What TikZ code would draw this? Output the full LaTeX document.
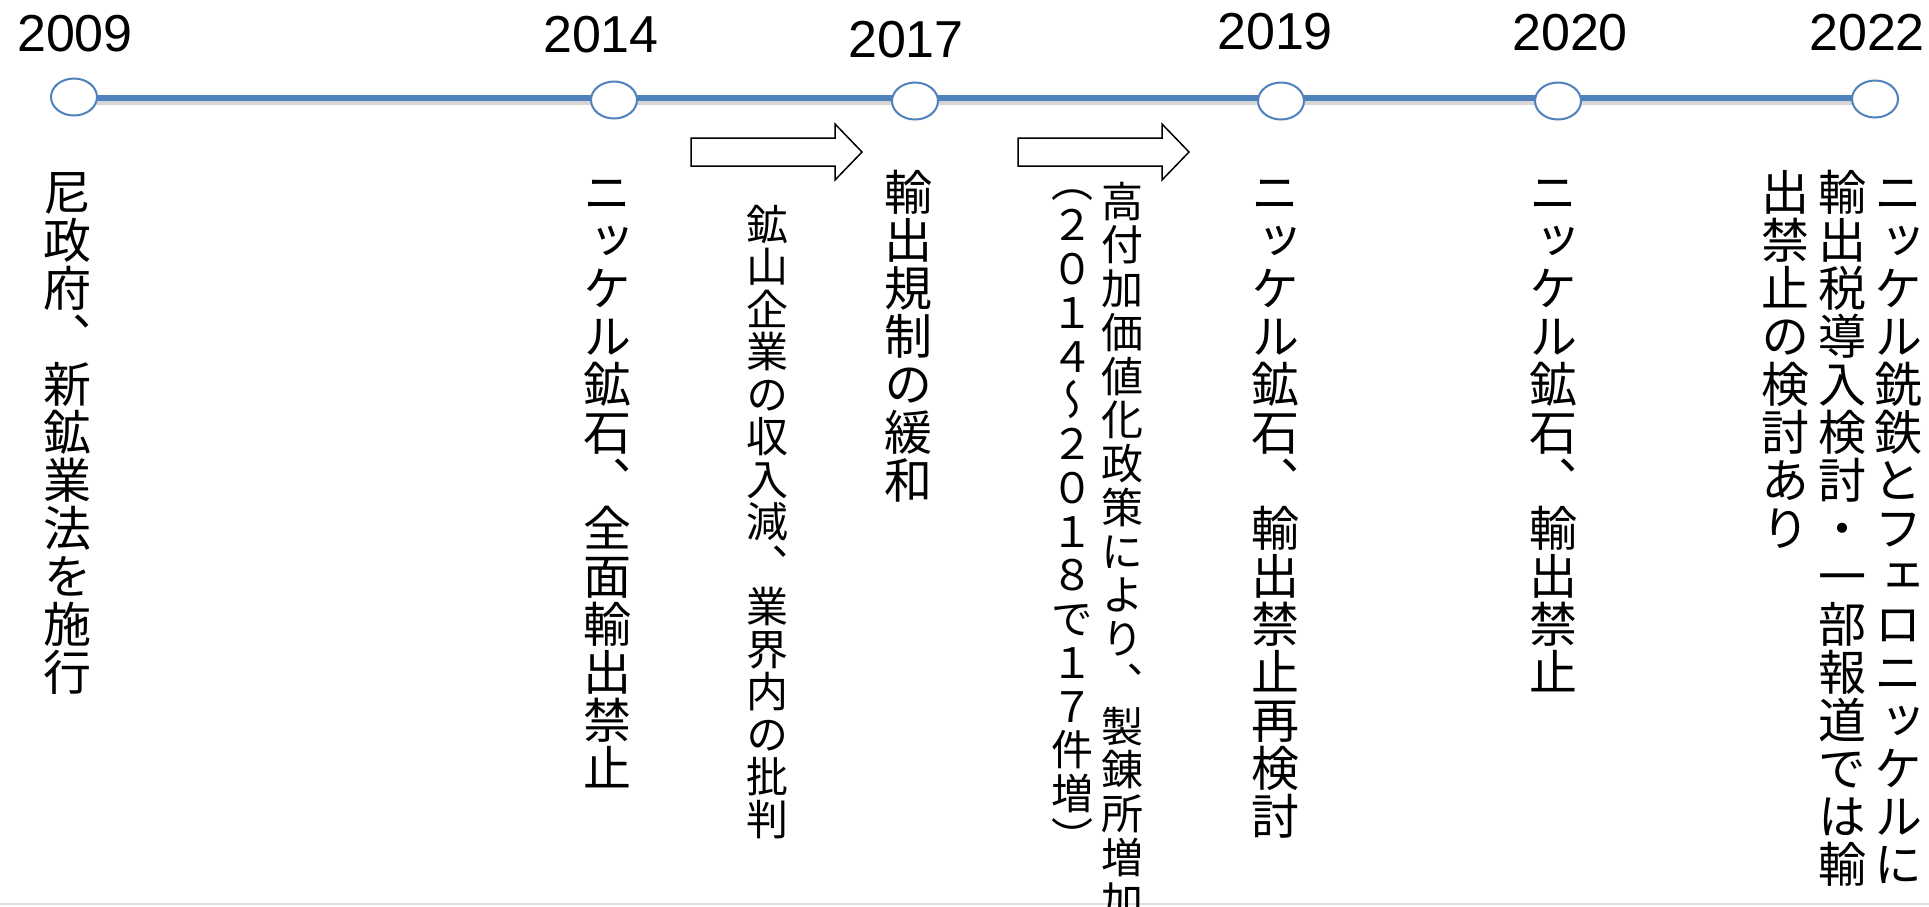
\documentclass[tikz,border=0pt]{standalone}
\usepackage{fontspec}
\setmainfont{Liberation Sans}
\newfontfamily\cjkv[RawFeature=+vert]{Noto Sans CJK JP}
\usetikzlibrary{shapes.geometric}
\pgfdeclarelayer{background}
\pgfsetlayers{background,main}
\definecolor{tlblue}{HTML}{4F81BD}
\makeatletter
\newcommand\vcol[3]{%
  \vbox{\fontsize{#1}{#2}\cjkv
    \baselineskip=#2pt\relax\lineskip=0pt\relax\lineskiplimit=-\maxdimen
    \@tfor\vc@c:=#3\do{\hbox to #1pt{\hss\vc@c\hss\vrule height .88em depth .12em width 0pt}}}}
\makeatother
\begin{document}
\begin{tikzpicture}[x=1pt,y=-1pt,
  ev/.style={ellipse, draw=tlblue, line width=2pt, fill=white, minimum width=46pt, minimum height=37pt, inner sep=0pt},
  year/.style={inner sep=0pt, font=\fontsize{52}{52}\selectfont},
  col/.style={anchor=north, inner sep=0pt},
  tl/.style={draw=tlblue, line width=6pt},
  tlshadow/.style={draw=black!16, line width=6pt},
  blockarrow/.style={draw=black, line width=1.5pt, fill=white, line join=miter}]
\useasboundingbox (0,0) rectangle (1929,906);
\draw[black!12, line width=2pt] (0,904) -- (1929,904);
% year labels
\node[year] (y2009) at (75,34) {2009};
\node[year] (y2014) at (601,35) {2014};
\node[year] (y2017) at (906,40) {2017};
\node[year] (y2019) at (1275,32) {2019};
\node[year] (y2020) at (1570,33) {2020};
\node[year] (y2022) at (1867,33) {2022};
% event circles
\node[ev] (c2009) at (74,97) {};
\node[ev] (c2014) at (614,100) {};
\node[ev] (c2017) at (915,101) {};
\node[ev] (c2019) at (1281,101) {};
\node[ev] (c2020) at (1558,101) {};
\node[ev] (c2022) at (1875,99) {};
\coordinate (tlref) at (0,98);
\coordinate (shref) at (0,102);
\begin{pgfonlayer}{background}
\fill[white] (0,0) rectangle (1929,906);
\foreach \a/\b in {c2009/c2014,c2014/c2017,c2017/c2019,c2019/c2020,c2020/c2022}{
  \draw[tlshadow] (\a.center |- shref) -- (\b.center |- shref);
  \draw[tl] (\a.center |- tlref) -- (\b.center |- tlref);
}
\end{pgfonlayer}
% block arrows
\draw[blockarrow] (691,138) -- (835,138) -- (835,124) -- (862,152) -- (835,180) -- (835,166) -- (691,166) -- cycle;
\draw[blockarrow] (1018,138) -- (1162,138) -- (1162,124) -- (1189,152) -- (1162,180) -- (1162,166) -- (1018,166) -- cycle;
% vertical texts
\node[col] (t2009) at (67,168) {\vcol{48}{48}{尼政府、新鉱業法を施行}};
\node[col] (t2014) at (607,168) {\vcol{48}{48}{ニッケル鉱石、全面輸出禁止}};
\node[col] (tmine) at (767,203) {\vcol{42}{42.5}{鉱山企業の収入減、業界内の批判}};
\node[col] (t2017) at (908,168) {\vcol{48}{48}{輸出規制の緩和}};
\node[col] (thigh) at (1122,180) {\vcol{42}{43.75}{高付加価値化政策により、製錬所増加}};
\node[col] (tparen) at (1072,160) {\vcol{42}{43.75}{（２０１４～２０１８で１７件増）}};
\node[col] (t2019) at (1275,168) {\vcol{48}{48}{ニッケル鉱石、輸出禁止再検討}};
\node[col] (t2020) at (1553,168) {\vcol{48}{48}{ニッケル鉱石、輸出禁止}};
\node[col] (t2022a) at (1898,168) {\vcol{48}{48}{ニッケル銑鉄とフェロニッケルに}};
\node[col] (t2022b) at (1842,168) {\vcol{48}{48}{輸出税導入検討・一部報道では輸}};
\node[col] (t2022c) at (1785,168) {\vcol{48}{48}{出禁止の検討あり}};
\end{tikzpicture}
\end{document}
